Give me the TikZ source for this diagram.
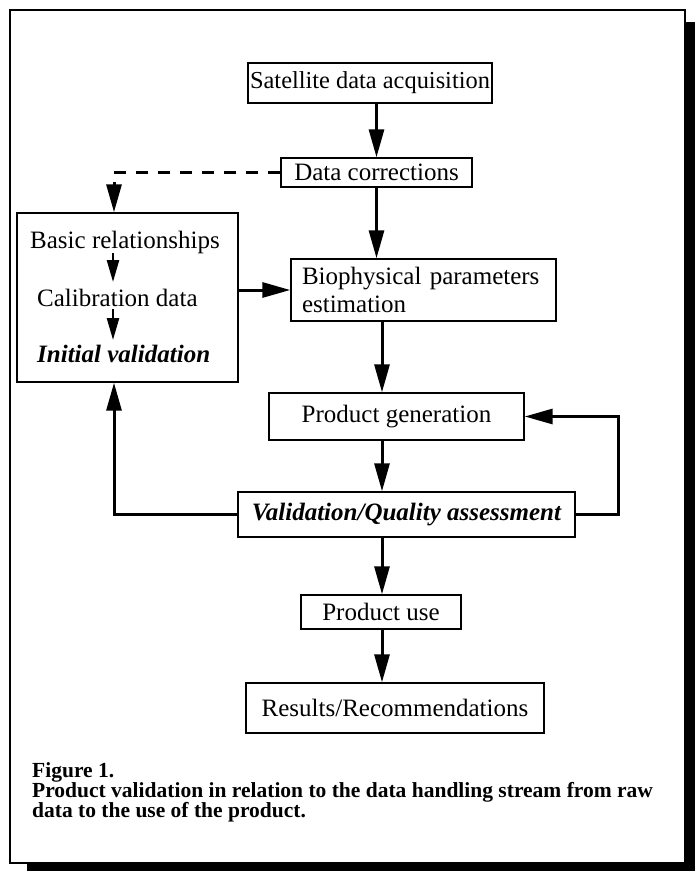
\documentclass[tikz,border=0pt]{standalone}
\usepackage{fontspec}
\setmainfont{Liberation Serif}
\usetikzlibrary{arrows.meta,calc}
\begin{document}
\begin{tikzpicture}[x=1pt,y=-1pt,
  box/.style={draw,line width=1.4pt,inner sep=0pt,font=\fontsize{25}{28}\selectfont},
  txt/.style={inner sep=0pt,font=\fontsize{25}{28}\selectfont},
  arr/.style={line width=3pt,-{Triangle[length=28pt,width=15pt]}},
  sarr/.style={line width=2.5pt,-{Triangle[length=22pt,width=12pt]}},
  dline/.style={line width=3pt,dash pattern=on 12pt off 10pt,-{Triangle[length=28pt,width=15pt]}},
  captxt/.style={inner sep=0pt,anchor=base west,font=\fontsize{21.5}{20}\selectfont\bfseries}
]
\useasboundingbox (0,0) rectangle (695,871);
% frame and shadow
\fill[black] (685,22) rectangle (695,871);
\fill[black] (27,864) rectangle (695,871);
\draw[line width=2pt] (10,10) rectangle (685,863);

\node[box,minimum width=244pt,minimum height=40pt,font=\fontsize{24.4}{28}\selectfont] (sat) at (370,83) {Satellite data acquisition};
\node[box,minimum width=191pt,minimum height=29pt] (dc) at (376.5,172.5) {Data corrections};
\node[box,minimum width=221pt,minimum height=169pt] (lb) at (127.5,297.5) {};
\node[txt,anchor=base west] (t1) at (30,248) {Basic relationships};
\node[txt,anchor=base west] (t2) at (37,306) {Calibration data};
\node[txt,anchor=base west] (t3) at (37,362) {\bfseries\itshape Initial validation};
\node[box,minimum height=62pt,text width=243pt,inner xsep=11pt,align=left] (bio) at (423.5,290) {Biophysical parameters\\estimation};
\node[box,minimum width=255pt,minimum height=47pt] (pg) at (396.5,416.5) {Product generation};
\node[box,minimum width=337pt,minimum height=45pt] (val) at (406.5,514.5) {\bfseries\itshape Validation/Quality assessment};
\node[box,minimum width=160pt,minimum height=34pt] (pu) at (381,612) {Product use};
\node[box,minimum width=298pt,minimum height=50pt] (res) at (395,708) {Results/Recommendations};

\node[captxt] (cap1) at (32,777) {Figure 1.};
\node[captxt] (cap2) at (32,797) {Product validation in relation to the data handling stream from raw};
\node[captxt] (cap3) at (32,817) {data to the use of the product.};

\coordinate (sx) at (113,0);
\coordinate (fx) at (114,0);
\coordinate (mx) at (382,0);
\coordinate (rx) at (618,0);

\draw[arr] (dc.north |- sat.south) -- (dc.north);
\draw[arr] (dc.south) -- (dc.south |- bio.north);
\draw[dline] (dc.west) -| (fx |- lb.north);
\draw[arr] (lb.east |- bio.west) -- (bio.west);
\draw[arr] (mx |- bio.south) -- (mx |- pg.north);
\draw[arr] (mx |- pg.south) -- (mx |- val.north);
\draw[arr] (mx |- val.south) -- (mx |- pu.north);
\draw[arr] (mx |- pu.south) -- (mx |- res.north);
\draw[arr] (val.west) -| (fx |- lb.south);
\draw[arr] (val.east) -- (rx |- val.east) |- (pg.east);
\draw[sarr] ($(sx |- t1.base)+(0,5)$) -- ($(sx |- t2.base)+(0,-24)$);
\draw[sarr] ($(sx |- t2.base)+(0,3)$) -- ($(sx |- t3.base)+(0,-22)$);
\end{tikzpicture}
\end{document}
